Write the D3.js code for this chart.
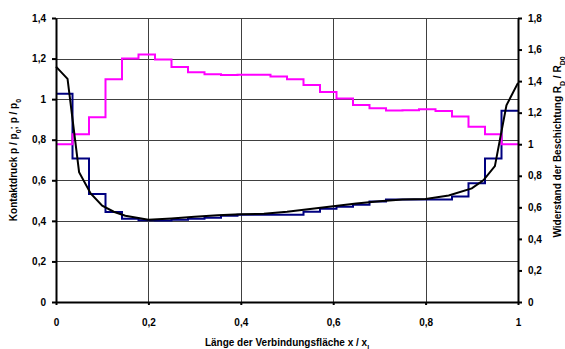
<!DOCTYPE html>
<html lang="de">
  <head>
    <meta charset="utf-8">
    <title>Kontaktdruck und Widerstand</title>
    <script src="https://d3js.org/d3.v7.min.js"></script>
    <style>
      body { margin: 0; background: #fff; }
      text { font-family: "Liberation Sans", Arial, sans-serif; font-weight: bold; fill: #000; }
      .tick text { font-size: 10px; }
      .grid line { stroke: #404040; stroke-width: 1; shape-rendering: crispEdges; }
      .axis path, .axis line { stroke: #000; stroke-width: 2; }
      .title { font-size: 10px; }
    </style>
  </head>
  <body>
    <script>

    // values
    var xTicks = [0, 0.2, 0.4, 0.6, 0.8, 1];
    var leftTicks = [0, 0.2, 0.4, 0.6, 0.8, 1, 1.2, 1.4];
    var rightTicks = [0, 0.2, 0.4, 0.6, 0.8, 1, 1.2, 1.4, 1.6, 1.8];

    // stepped contact pressure (left axis), 28 equal segments over x = 0..1
    var blueSteps = [1.027, 0.708, 0.532, 0.444, 0.41, 0.403, 0.402, 0.405, 0.41, 0.415,
                     0.425, 0.43, 0.43, 0.43, 0.43, 0.445, 0.46, 0.47, 0.48, 0.495,
                     0.505, 0.505, 0.505, 0.505, 0.52, 0.585, 0.708, 0.943];

    // stepped coating resistance (right axis)
    var magentaSteps = [1.0, 1.063, 1.171, 1.412, 1.543, 1.568, 1.537, 1.49, 1.456, 1.444,
                        1.439, 1.441, 1.441, 1.429, 1.412, 1.376, 1.331, 1.289, 1.249, 1.228,
                        1.213, 1.215, 1.222, 1.211, 1.175, 1.111, 1.063, 1.0];

    // smooth contact pressure curve (left axis)
    var curveX = [0, 0.025, 0.05, 0.075, 0.1, 0.125, 0.15, 0.2, 0.25, 0.3, 0.35, 0.4, 0.45,
                  0.5, 0.55, 0.6, 0.65, 0.7, 0.75, 0.8, 0.85, 0.9, 0.925, 0.95, 0.975, 1];
    var curveY = [1.16, 1.10, 0.64, 0.535, 0.475, 0.445, 0.425, 0.405, 0.412, 0.42, 0.428, 0.433, 0.435,
                  0.445, 0.458, 0.472, 0.485, 0.497, 0.505, 0.508, 0.525, 0.56, 0.60, 0.67, 0.97, 1.08];

    var margin = {top: 18, right: 47, bottom: 47, left: 56};
    var W = 565, H = 349;
    var w = W - margin.left - margin.right;
    var h = H - margin.top - margin.bottom;

    var svg = d3.select("body").append("svg")
                .attr("width", W)
                .attr("height", H);
    var g = svg.append("g")
               .attr("transform", "translate(" + margin.left + "," + margin.top + ")");

    var x = d3.scaleLinear().domain([0, 1]).range([0, w]);
    var yL = d3.scaleLinear().domain([0, 1.4]).range([h, 0]);
    var yR = d3.scaleLinear().domain([0, 1.8]).range([h, 0]);

    var fmt = function(d) {
      return Math.abs(d - Math.round(d)) < 1e-9 ? String(Math.round(d)) : d.toFixed(1).replace(".", ",");
    };

    // grid
    var grid = g.append("g").attr("class", "grid");
    grid.selectAll(".h").data(leftTicks.slice(1)).enter().append("line")
        .attr("x1", 0).attr("x2", w)
        .attr("y1", function(d) { return Math.round(yL(d)) + 0.5; })
        .attr("y2", function(d) { return Math.round(yL(d)) + 0.5; });
    grid.selectAll(".v").data(xTicks.slice(1, -1)).enter().append("line")
        .attr("y1", 0).attr("y2", h)
        .attr("x1", function(d) { return Math.round(x(d)) + 0.5; })
        .attr("x2", function(d) { return Math.round(x(d)) + 0.5; });

    // series
    var n = blueSteps.length;
    var stepPts = function(vals) {
      var pts = vals.map(function(v, i) { return [i / n, v]; });
      pts.push([1, vals[n - 1]]);
      return pts;
    };

    var stepLineL = d3.line().curve(d3.curveStepAfter)
                      .x(function(d) { return x(d[0]); })
                      .y(function(d) { return yL(d[1]); });
    var stepLineR = d3.line().curve(d3.curveStepAfter)
                      .x(function(d) { return x(d[0]); })
                      .y(function(d) { return yR(d[1]); });

    g.append("path")
     .attr("d", stepLineL(stepPts(blueSteps)))
     .attr("fill", "none").attr("stroke", "#000080").attr("stroke-width", 2);

    g.append("path")
     .attr("d", stepLineR(stepPts(magentaSteps)))
     .attr("fill", "none").attr("stroke", "#ff00ff").attr("stroke-width", 2);

    var curve = d3.line()
                  .x(function(d, i) { return x(curveX[i]); })
                  .y(function(d) { return yL(d); });
    g.append("path")
     .attr("d", curve(curveY))
     .attr("fill", "none").attr("stroke", "#000").attr("stroke-width", 2);

    // axes
    g.append("g").attr("class", "axis")
     .call(d3.axisLeft(yL).tickValues(leftTicks).tickFormat(fmt).tickSize(4).tickSizeOuter(0).tickPadding(6));

    g.append("g").attr("class", "axis")
     .attr("transform", "translate(" + w + ",0)")
     .call(d3.axisRight(yR).tickValues(rightTicks).tickFormat(fmt).tickSize(4).tickSizeOuter(0).tickPadding(6));

    g.append("g").attr("class", "axis")
     .attr("transform", "translate(0," + h + ")")
     .call(d3.axisBottom(x).tickValues(xTicks).tickFormat(fmt).tickSize(3).tickSizeOuter(0).tickPadding(14));

    // titles
    var xt = svg.append("text").attr("class", "title")
                .attr("x", margin.left + w / 2).attr("y", 346)
                .attr("text-anchor", "middle");
    xt.append("tspan").text("Länge der Verbindungsfläche x / x");
    xt.append("tspan").attr("baseline-shift", "sub").attr("font-size", "7px").text("l");

    var lt = svg.append("text").attr("class", "title")
                .attr("transform", "translate(17," + (margin.top + h / 2) + ") rotate(-90)")
                .attr("text-anchor", "middle");
    lt.append("tspan").text("Kontaktdruck p / p");
    lt.append("tspan").attr("baseline-shift", "sub").attr("font-size", "7px").text("0");
    lt.append("tspan").text("; p / p");
    lt.append("tspan").attr("baseline-shift", "sub").attr("font-size", "7px").text("0");

    var rt = svg.append("text").attr("class", "title")
                .attr("transform", "translate(561,147) rotate(-90)")
                .attr("text-anchor", "middle");
    rt.append("tspan").text("Widerstand der Beschichtung R");
    rt.append("tspan").attr("baseline-shift", "sub").attr("font-size", "7px").text("D");
    rt.append("tspan").text(" / R");
    rt.append("tspan").attr("baseline-shift", "sub").attr("font-size", "7px").text("D0");

    </script>
  </body>
</html>
